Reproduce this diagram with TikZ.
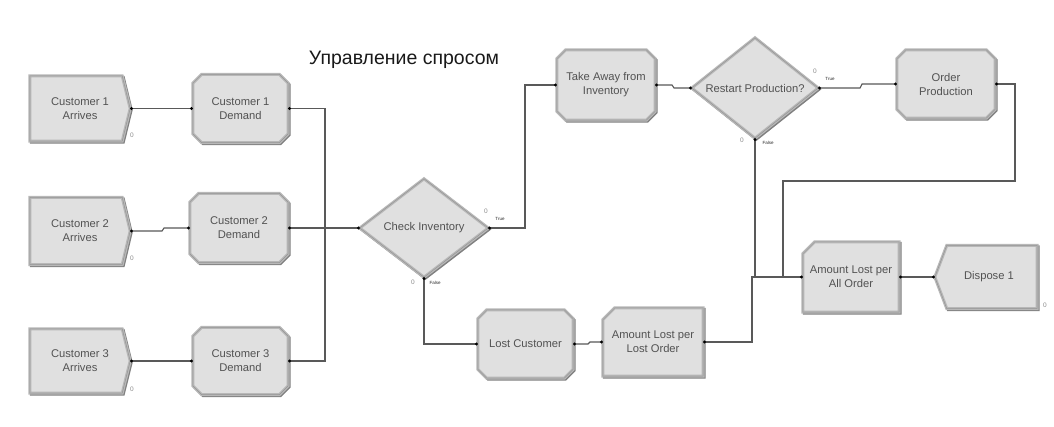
\documentclass[tikz,border=0pt]{standalone}
\usepackage{fontspec}
\setmainfont{Liberation Sans}
\usetikzlibrary{arrows.meta,backgrounds,calc}

\tikzset{
  mod/.style={inner sep=0pt, align=center, text=black!68, font=\fontsize{11.2}{14}\selectfont},
  modshadow/.style={draw=black!50, fill=black!50, line width=2.4pt, line join=miter, transform canvas={shift={(1.3pt,-1.3pt)}}},
  modmain/.style={draw=black!28, fill=black!12, line width=3pt, line join=miter},
  modedge/.style={draw=black!42, line width=0.5pt, line join=miter},
  conn/.style={draw=black!65, line width=1.1pt},
  dd/.style={{Circle[length=2.8pt,color=black]}-{Circle[length=2.8pt,color=black]}},
  ds/.style={{Circle[length=2.8pt,color=black]}-},
  zero/.style={font=\fontsize{6.5}{6.5}\selectfont, text=black!45, inner sep=0pt},
  tf/.style={font=\fontsize{4.5}{5}\selectfont, text=black!85, inner sep=0pt},
}
\newcommand\modpath[1]{\path[modshadow] #1; \path[modmain] #1; \path[modedge] #1;}
\newcommand\shpcreate[2]{(#1.north west) -- ([xshift=-#2]#1.north east) -- (#1.east) -- ([xshift=-#2]#1.south east) -- (#1.south west) -- cycle}
\newcommand\shpprocess[2]{([xshift=#2]#1.north west) -- ([xshift=-#2]#1.north east) -- ([yshift=-#2]#1.north east) -- ([yshift=#2]#1.south east) -- ([xshift=-#2]#1.south east) -- ([xshift=#2]#1.south west) -- ([yshift=#2]#1.south west) -- ([yshift=-#2]#1.north west) -- cycle}
\newcommand\shprecord[2]{([xshift=#2]#1.north west) -- (#1.north east) -- (#1.south east) -- (#1.south west) -- ([yshift=-#2]#1.north west) -- cycle}
\newcommand\shpdispose[2]{(#1.west) -- ([xshift=#2]#1.north west) -- (#1.north east) -- (#1.south east) -- ([xshift=#2]#1.south west) -- cycle}
\newcommand\shpdecide[1]{(#1.west) -- (#1.north) -- (#1.east) -- (#1.south) -- cycle}

\begin{document}
\begin{tikzpicture}[x=1pt,y=-1pt]
\useasboundingbox (0,0) rectangle (1054,426);

% title
\node[anchor=base, font=\fontsize{19.5}{22}\selectfont, text=black!90, inner sep=0pt] (title) at (404,64) {Управление спросом};

% modules
\node[mod, minimum width=100pt, minimum height=65pt] (c1a) at (80,108.5) {Customer 1\\Arrives};
\node[mod, minimum width=100pt, minimum height=67pt] (c2a) at (80,231) {Customer 2\\Arrives};
\node[mod, minimum width=100pt, minimum height=64pt] (c3a) at (80,361) {Customer 3\\Arrives};
\node[mod, minimum width=95pt, minimum height=68pt] (c1d) at (240.5,108.5) {Customer 1\\Demand};
\node[mod, minimum width=98pt, minimum height=69pt] (c2d) at (239,228) {Customer 2\\Demand};
\node[mod, minimum width=95pt, minimum height=67pt] (c3d) at (240.5,361) {Customer 3\\Demand};
\node[mod, minimum width=128pt, minimum height=98pt] (ci) at (424,228) {Check Inventory};
\node[mod, minimum width=98pt, minimum height=70pt] (take) at (606,85) {Take Away from\\Inventory};
\node[mod, minimum width=126pt, minimum height=100pt] (restart) at (755,88) {Restart Production?};
\node[mod, minimum width=98pt, minimum height=68pt] (order) at (946,84) {Order\\Production};
\node[mod, minimum width=95pt, minimum height=68pt] (lost) at (525.5,344) {Lost Customer};
\node[mod, minimum width=100pt, minimum height=68pt] (lostord) at (653,342) {Amount Lost per\\Lost Order};
\node[mod, minimum width=96pt, minimum height=70pt] (all) at (851,277) {Amount Lost per\\All Order};
\node[mod, minimum width=102pt, minimum height=63pt] (disp) at (986,277) {\hspace*{6pt}Dispose 1};

% shapes behind texts
\begin{scope}[on background layer]
  \fill[white] (0,0) rectangle (1054,426);
  \modpath{\shpcreate{c1a}{8pt}}
  \modpath{\shpcreate{c2a}{8pt}}
  \modpath{\shpcreate{c3a}{8pt}}
  \modpath{\shpprocess{c1d}{9pt}}
  \modpath{\shpprocess{c2d}{9pt}}
  \modpath{\shpprocess{c3d}{9pt}}
  \modpath{\shpprocess{take}{9pt}}
  \modpath{\shpprocess{order}{9pt}}
  \modpath{\shpprocess{lost}{9pt}}
  \modpath{\shprecord{lostord}{12pt}}
  \modpath{\shprecord{all}{12pt}}
  \modpath{\shpdispose{disp}{12pt}}
  \modpath{\shpdecide{ci}}
  \modpath{\shpdecide{restart}}
\end{scope}

% connectors
\coordinate (bus) at (325,228);
\coordinate (j1) at (755,277);
\coordinate (j2) at (783,277);
\draw[conn,dd] (c1a.east) -- (c1d.west);
\draw[conn,dd] (c2a.east) -- (162,231) -- (164,228) -- (c2d.west);
\draw[conn,dd] (c3a.east) -- (c3d.west);
\draw[conn,ds] (c1d.east) -| (bus);
\draw[conn,ds] (c3d.east) -| (bus);
\draw[conn,dd] (c2d.east) -- (ci.west);
\draw[conn,dd] (ci.east) -- (525,228) |- (take.west);
\draw[conn,dd] (ci.south) |- (lost.west);
\draw[conn,dd] (take.east) -- (672,85) -- (674,88) -- (restart.west);
\draw[conn,dd] (restart.east) -- (860,88) -- (862,84) -- (order.west);
\draw[conn,dd] (lost.east) -- (588,344) -- (590,342) -- (lostord.west);
\draw[conn,dd] (lostord.east) -- (752,342) -- (752,277) -- (all.west);
\draw[conn,ds] (restart.south) -- (j1);
\draw[conn,ds] (order.east) -- (1015,84) -- (1015,181) -- (783,181) -- (j2);
\draw[conn,dd] (all.east) -- (disp.west);

% small labels
\node[zero] (z1) at (132,135) {0};
\node[zero] (z2) at (132,258) {0};
\node[zero] (z3) at (132,389) {0};
\node[zero] (z4) at (486,211) {0};
\node[tf] (t4) at (500,219) {True};
\node[zero] (z5) at (413,282) {0};
\node[tf] (f5) at (435,283) {False};
\node[zero] (z6) at (815,71) {0};
\node[tf] (t6) at (830,79) {True};
\node[zero] (z7) at (742,140) {0};
\node[tf] (f7) at (768,143) {False};
\node[zero] (z8) at (1045,305) {0};
\end{tikzpicture}
\end{document}
